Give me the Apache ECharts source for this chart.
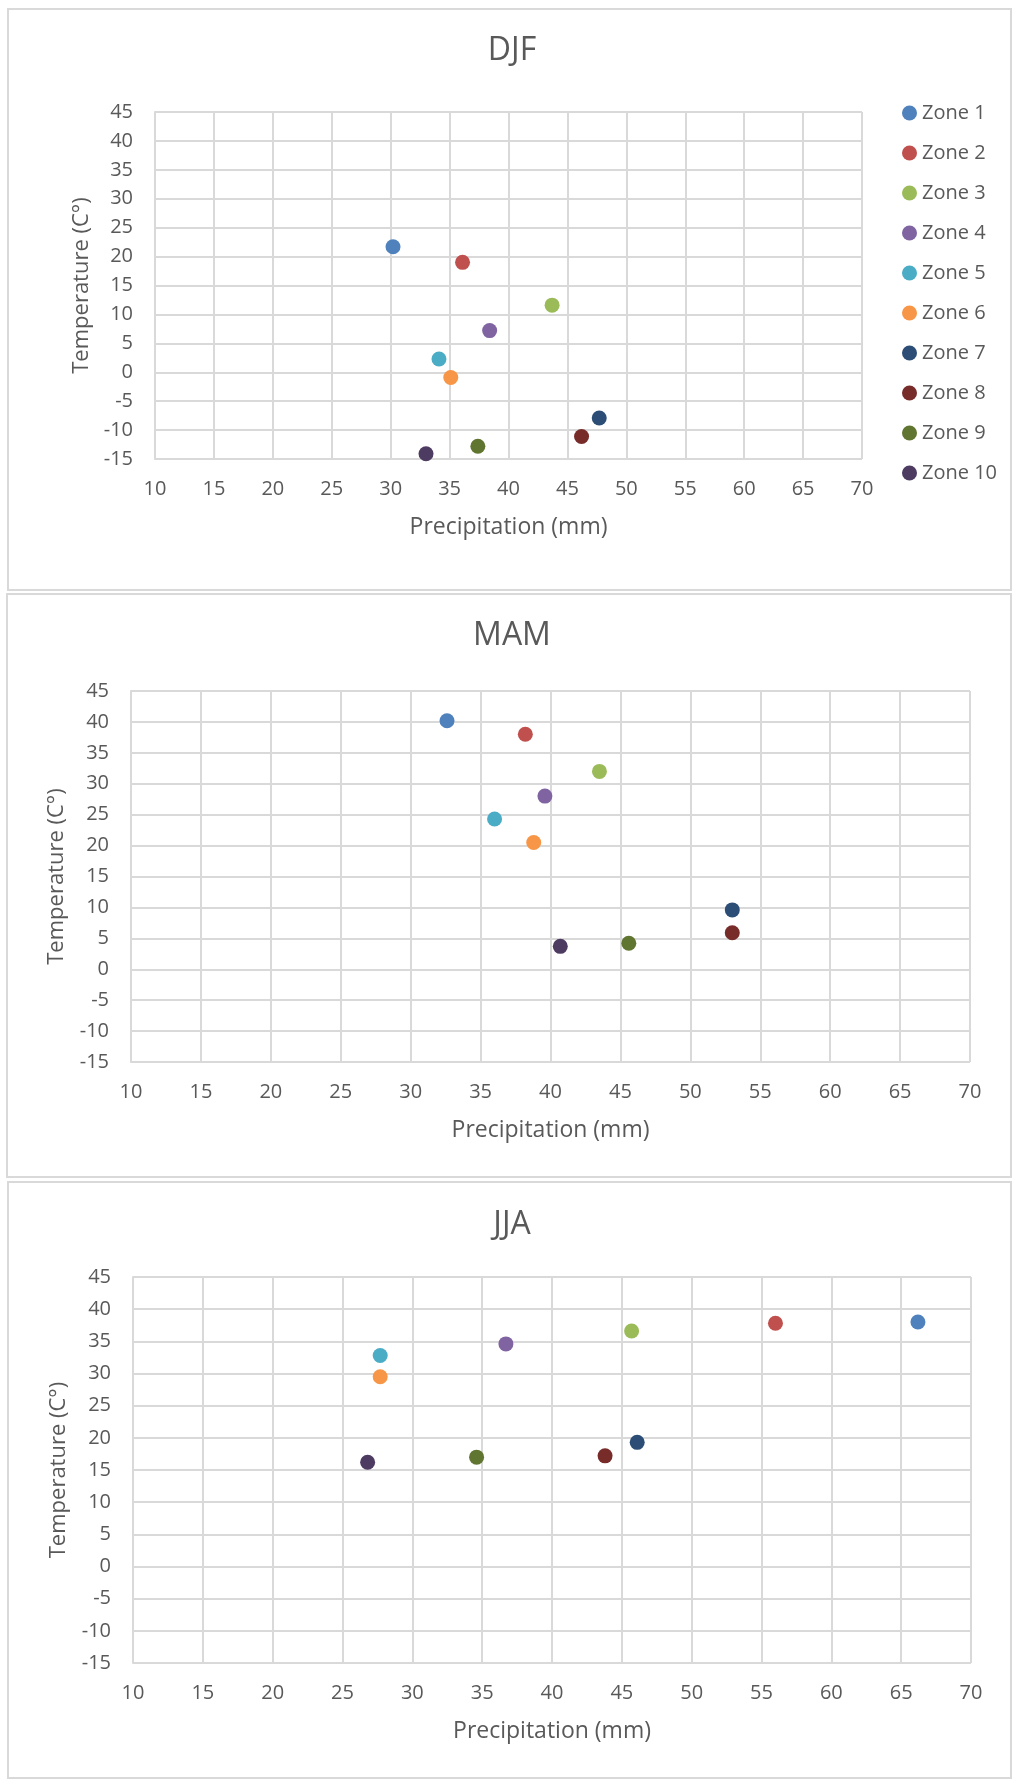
<!DOCTYPE html>
<html>
<head>
<meta charset="utf-8">
<title>Zones</title>
<script src="https://cdn.jsdelivr.net/npm/echarts@6/dist/echarts.min.js"></script>
<style>
  html, body { margin: 0; padding: 0; background: #fff; }
  #main { width: 1024px; height: 1787px; }
</style>
</head>
<body>
<div id="main"></div>
<script>
// 数据
var zones = ['Zone 1', 'Zone 2', 'Zone 3', 'Zone 4', 'Zone 5', 'Zone 6', 'Zone 7', 'Zone 8', 'Zone 9', 'Zone 10'];
var zoneColors = ['#4F81BD', '#C0504D', '#9BBB59', '#8064A2', '#4BACC6', '#F79646', '#2C4D75', '#772C2A', '#5F7530', '#4D3B62'];

var djfPrecip = [30.2, 36.1, 43.7, 38.4, 34.1, 35.1, 47.7, 46.2, 37.4, 33.0];
var djfTemp   = [21.7, 19.0, 11.6, 7.2, 2.3, -0.9, -7.9, -11.1, -12.8, -14.1];

var mamPrecip = [32.6, 38.2, 43.5, 39.6, 36.0, 38.8, 53.0, 53.0, 45.6, 40.7];
var mamTemp   = [40.2, 38.0, 32.0, 28.0, 24.3, 20.5, 9.6, 5.9, 4.2, 3.7];

var jjaPrecip = [66.2, 56.0, 45.7, 36.7, 27.7, 27.7, 46.1, 43.8, 34.6, 26.8];
var jjaTemp   = [38.0, 37.8, 36.6, 34.6, 32.8, 29.5, 19.3, 17.2, 17.0, 16.2];

var seasons = ['DJF', 'MAM', 'JJA'];

var chart = echarts.init(document.getElementById('main'));

var grey = '#595959';
var font = 'Open Sans';

// 每个图的位置
var grids = [
  { left: 155, right: 162, top: 112, height: 347 },
  { left: 131, right: 54, top: 691, height: 371 },
  { left: 133, right: 53, top: 1277, height: 386 }
];
var titleTops = [35, 620, 1209];
var frames = [
  { x: 8, y: 9, width: 1003, height: 581 },
  { x: 7, y: 594, width: 1004, height: 583 },
  { x: 8, y: 1182, width: 1003, height: 596 }
];
var yNameGaps = [62, 63, 63];

var xData = [djfPrecip, mamPrecip, jjaPrecip];
var yData = [djfTemp, mamTemp, jjaTemp];

var option = {
  backgroundColor: '#fff',
  textStyle: { fontFamily: font },
  title: [],
  grid: [],
  xAxis: [],
  yAxis: [],
  series: [],
  legend: {
    data: zones,
    orient: 'vertical',
    left: 902,
    top: 103,
    padding: 0,
    itemWidth: 15,
    itemHeight: 15,
    itemGap: 20,
    icon: 'circle',
    textStyle: { color: grey, fontSize: 20, lineHeight: 20, fontFamily: font }
  },
  graphic: []
};

for (var s = 0; s < 3; s++) {
  option.title.push({
    text: seasons[s],
    left: 'center',
    top: titleTops[s],
    padding: 0,
    textStyle: { color: grey, fontSize: 32, fontWeight: 'normal', fontFamily: font }
  });
  option.grid.push(grids[s]);
  option.xAxis.push({
    type: 'value',
    gridIndex: s,
    min: 10,
    max: 70,
    interval: 5,
    name: 'Precipitation (mm)',
    nameLocation: 'middle',
    nameGap: 57,
    nameTextStyle: { color: grey, fontSize: 23, fontFamily: font },
    axisLine: { show: true, lineStyle: { color: '#d9d9d9', width: 2 } },
    axisTick: { show: false },
    axisLabel: { color: grey, fontSize: 20, margin: 20, fontFamily: font },
    splitLine: { show: true, lineStyle: { color: '#d9d9d9', width: 2 } }
  });
  option.yAxis.push({
    type: 'value',
    gridIndex: s,
    min: -15,
    max: 45,
    interval: 5,
    name: 'Temperature (C°)',
    nameLocation: 'middle',
    nameGap: yNameGaps[s],
    nameTextStyle: { color: grey, fontSize: 22, fontFamily: font },
    axisLine: { show: true, lineStyle: { color: '#d9d9d9', width: 2 } },
    axisTick: { show: false },
    axisLabel: { color: grey, fontSize: 20, margin: 22, fontFamily: font },
    splitLine: { show: true, lineStyle: { color: '#d9d9d9', width: 2 } }
  });
  for (var z = 0; z < zones.length; z++) {
    option.series.push({
      name: zones[z],
      type: 'scatter',
      xAxisIndex: s,
      yAxisIndex: s,
      symbolSize: 15,
      itemStyle: { color: zoneColors[z], opacity: 1 },
      data: [[xData[s][z], yData[s][z]]]
    });
  }
  // 外框
  option.graphic.push({
    type: 'rect',
    shape: frames[s],
    style: { fill: 'none', stroke: '#d9d9d9', lineWidth: 2 },
    silent: true
  });
}

chart.setOption(option);
</script>
</body>
</html>
